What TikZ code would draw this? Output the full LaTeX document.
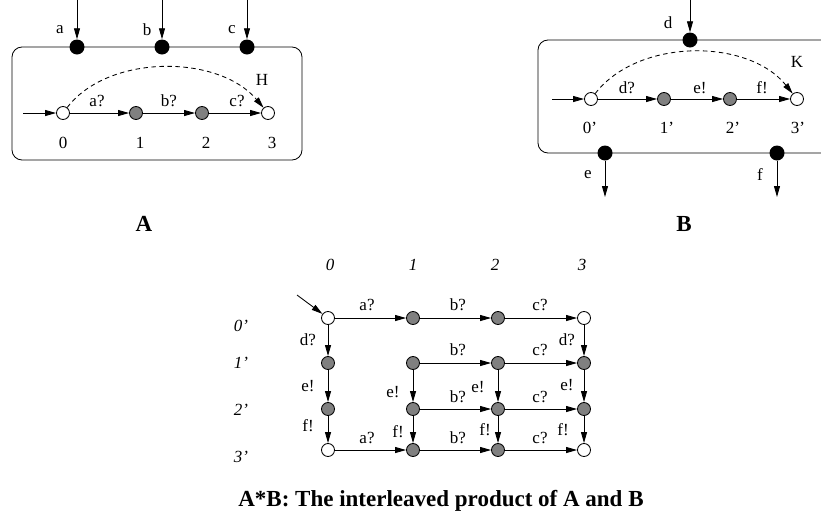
\documentclass[tikz,border=0pt]{standalone}
\usepackage{fontspec}
\setmainfont{Liberation Serif}
\usetikzlibrary{arrows.meta}
\begin{document}
\begin{tikzpicture}[x=1pt,y=-1pt,
  every node/.style={font=\fontsize{17}{19}\selectfont, inner sep=0pt},
  state/.style={circle, draw, line width=0.85pt, minimum size=13pt, inner sep=0pt},
  endst/.style={state, fill=white},
  midst/.style={state, fill=black!50},
  port/.style={circle, fill=black, minimum size=15pt, inner sep=0pt},
  arr/.style={-{Triangle[length=11pt,width=6pt]}, line width=0.85pt},
  dasharr/.style={arr, dash pattern=on 4.5pt off 3.5pt},
  frame/.style={draw, line width=0.85pt, rounded corners=10pt},
  hdr/.style={font=\fontsize{17}{19}\selectfont\itshape},
  title/.style={font=\fontsize{23}{27}\selectfont\bfseries},
  caption/.style={font=\fontsize{23}{27}\selectfont\bfseries}]
\useasboundingbox (0,0) rectangle (821,520);

% ---------------- automaton A ----------------
\draw[frame] (12,47) rectangle (302,160);
\node[port] (pa) at (77,47) {};
\node[port] (pb) at (162,47) {};
\node[port] (pc) at (247,47) {};
\coordinate (ta) at (77,0);
\coordinate (tb) at (162,0);
\coordinate (tc) at (247,0);
\draw[arr] (ta) -- (pa);
\draw[arr] (tb) -- (pb);
\draw[arr] (tc) -- (pc);
\node (lpa) at (60,30) {a};
\node (lpb) at (147,30) {b};
\node (lpc) at (232,30) {c};

\node[endst] (a0) at (63,113) {};
\node[midst] (a1) at (136,113) {};
\node[midst] (a2) at (202,113) {};
\node[endst] (a3) at (268,113) {};
\coordinate (ain) at (23,113);
\draw[arr] (ain) -- (a0);
\draw[arr] (a0) -- (a1);
\draw[arr] (a1) -- (a2);
\draw[arr] (a2) -- (a3);
\node (la01) at (97,101) {a?};
\node (la12) at (169,101) {b?};
\node (la23) at (237,101) {c?};
\node (na0) at (63,143) {0};
\node (na1) at (140,143) {1};
\node (na2) at (206,143) {2};
\node (na3) at (272,143) {3};
\draw[dasharr] (a0) .. controls (108,54) and (218,54) .. (a3);
\node (lH) at (262,80) {H};
\node[title] (tA) at (144,224) {A};

% ---------------- automaton B ----------------
\draw[frame] (538,40) rectangle (845,153);
\node[port] (pd) at (690,40) {};
\node[port] (pe) at (605,153) {};
\node[port] (pf) at (777,153) {};
\coordinate (td) at (690,0);
\coordinate (be) at (605,197);
\coordinate (bf) at (777,197);
\draw[arr] (td) -- (pd);
\draw[arr] (pe) -- (be);
\draw[arr] (pf) -- (bf);
\node (lpd) at (668,23) {d};
\node (lpe) at (588,175) {e};
\node (lpf) at (760,175) {f};

\node[endst] (b0) at (591,99) {};
\node[midst] (b1) at (664,99) {};
\node[midst] (b2) at (730,99) {};
\node[endst] (b3) at (797,99) {};
\coordinate (bin) at (552,99);
\draw[arr] (bin) -- (b0);
\draw[arr] (b0) -- (b1);
\draw[arr] (b1) -- (b2);
\draw[arr] (b2) -- (b3);
\node (lb01) at (627,88) {d?};
\node (lb12) at (700,88) {e!};
\node (lb23) at (762,88) {f!};
\node (nb0) at (590,128) {0'};
\node (nb1) at (667,128) {1'};
\node (nb2) at (733,128) {2'};
\node (nb3) at (798,128) {3'};
\draw[dasharr] (b0) .. controls (638,38) and (748,38) .. (b3);
\node (lK) at (797,62) {K};
\node[title] (tB) at (684,224) {B};

% ---------------- product A*B ----------------
\node[hdr] (c0) at (330,265) {0};
\node[hdr] (c1) at (413,265) {1};
\node[hdr] (c2) at (495,265) {2};
\node[hdr] (c3) at (582,265) {3};
\node[hdr] (r0) at (241,326) {0'};
\node[hdr] (r1) at (241,363) {1'};
\node[hdr] (r2) at (241,410) {2'};
\node[hdr] (r3) at (241,457) {3'};

% states g<column><row>
\node[endst] (g00) at (328,318) {};
\node[midst] (g10) at (413,318) {};
\node[midst] (g20) at (498,318) {};
\node[endst] (g30) at (584,318) {};
\node[midst] (g01) at (328,363) {};
\node[midst] (g11) at (413,363) {};
\node[midst] (g21) at (498,363) {};
\node[midst] (g31) at (584,363) {};
\node[midst] (g02) at (328,409) {};
\node[midst] (g12) at (413,409) {};
\node[midst] (g22) at (498,409) {};
\node[midst] (g32) at (584,409) {};
\node[endst] (g03) at (328,450) {};
\node[midst] (g13) at (413,450) {};
\node[midst] (g23) at (498,450) {};
\node[endst] (g33) at (584,450) {};

\coordinate (gin) at (297,295);
\draw[arr] (gin) -- (g00);

% horizontal moves of A
\draw[arr] (g00) -- (g10);
\draw[arr] (g10) -- (g20);
\draw[arr] (g20) -- (g30);
\draw[arr] (g11) -- (g21);
\draw[arr] (g21) -- (g31);
\draw[arr] (g12) -- (g22);
\draw[arr] (g22) -- (g32);
\draw[arr] (g03) -- (g13);
\draw[arr] (g13) -- (g23);
\draw[arr] (g23) -- (g33);
% vertical moves of B
\draw[arr] (g00) -- (g01);
\draw[arr] (g01) -- (g02);
\draw[arr] (g02) -- (g03);
\draw[arr] (g30) -- (g31);
\draw[arr] (g31) -- (g32);
\draw[arr] (g32) -- (g33);
\draw[arr] (g11) -- (g12);
\draw[arr] (g12) -- (g13);
\draw[arr] (g21) -- (g22);
\draw[arr] (g22) -- (g23);

% transition labels
\node (h00) at (367,305) {a?};
\node (h10) at (458,305) {b?};
\node (h20) at (540,305) {c?};
\node (h11) at (458,350) {b?};
\node (h21) at (540,350) {c?};
\node (h12) at (458,397) {b?};
\node (h22) at (540,397) {c?};
\node (h03) at (367,438) {a?};
\node (h13) at (458,438) {b?};
\node (h23) at (540,438) {c?};
\node (v00) at (308,340) {d?};
\node (v01) at (308,386) {e!};
\node (v02) at (308,426) {f!};
\node (v30) at (567,340) {d?};
\node (v31) at (567,385) {e!};
\node (v32) at (563,430) {f!};
\node (v11) at (393,392) {e!};
\node (v12) at (398,432) {f!};
\node (v21) at (478,387) {e!};
\node (v22) at (485,430) {f!};

\node[caption] (cap) at (441,501) {A*B: The interleaved product of A and B};
\end{tikzpicture}
\end{document}
